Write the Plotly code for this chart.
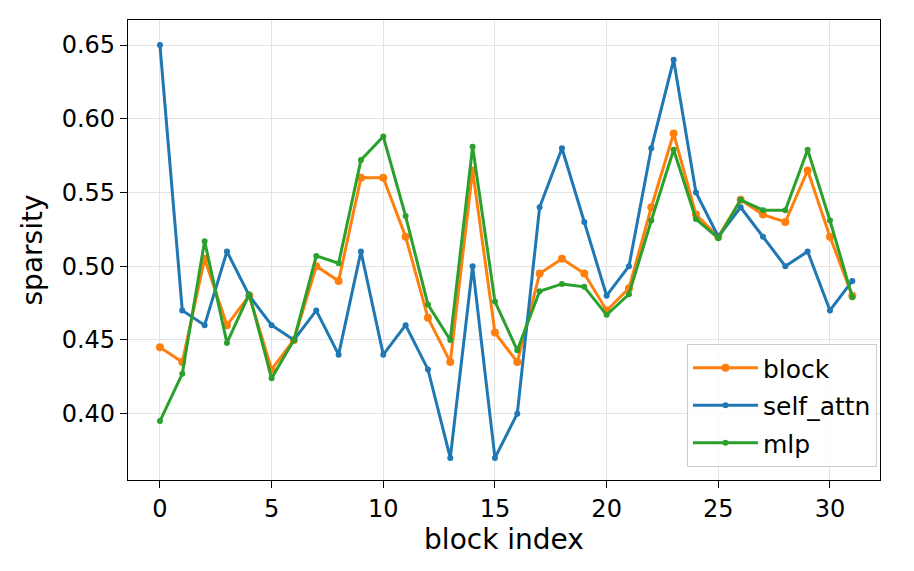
import plotly.graph_objects as go

block_index = list(range(32))
block = [0.445, 0.435, 0.505, 0.46, 0.48, 0.43, 0.45, 0.50, 0.49, 0.56, 0.56, 0.52, 0.465, 0.435, 0.565, 0.455,
         0.435, 0.495, 0.505, 0.495, 0.47, 0.485, 0.54, 0.59, 0.535, 0.52, 0.545, 0.535, 0.53, 0.565, 0.52, 0.48]
self_attn = [0.65, 0.47, 0.46, 0.51, 0.48, 0.46, 0.45, 0.47, 0.44, 0.51, 0.44, 0.46, 0.43, 0.37, 0.50, 0.37,
             0.40, 0.54, 0.58, 0.53, 0.48, 0.50, 0.58, 0.64, 0.55, 0.52, 0.54, 0.52, 0.50, 0.51, 0.47, 0.49]
mlp = [0.395, 0.427, 0.517, 0.448, 0.481, 0.424, 0.45, 0.507, 0.502, 0.572, 0.588, 0.534, 0.474, 0.45, 0.581, 0.476,
       0.443, 0.483, 0.488, 0.486, 0.467, 0.481, 0.531, 0.579, 0.532, 0.519, 0.545, 0.538, 0.538, 0.579, 0.531, 0.479]

fig = go.Figure()
fig.add_trace(go.Scatter(x=block_index, y=block, name="block", mode="lines+markers", legendgroup="a",
                         line=dict(color="#ff7f0e", width=3), marker=dict(size=8, color="#ff7f0e")))
fig.add_trace(go.Scatter(x=block_index, y=self_attn, name="self_attn", mode="lines+markers", legendgroup="b",
                         line=dict(color="#1f77b4", width=3), marker=dict(size=6, color="#1f77b4")))
fig.add_trace(go.Scatter(x=block_index, y=mlp, name="mlp", mode="lines+markers", legendgroup="c",
                         line=dict(color="#2ca02c", width=3), marker=dict(size=6, color="#2ca02c")))

axis_common = dict(showline=True, linecolor="black", linewidth=1.2, mirror=True,
                   ticks="outside", ticklen=7, tickcolor="black", tickwidth=1.2,
                   showgrid=True, gridcolor="#e3e3e3", gridwidth=1, zeroline=False,
                   tickfont=dict(size=24, color="black"))

fig.update_layout(
    width=898, height=555,
    margin=dict(l=120, r=26, t=12, b=83),
    paper_bgcolor="white", plot_bgcolor="white",
    font=dict(family="DejaVu Sans", color="black"),
    xaxis=dict(range=[-1.43, 32.24], tickvals=[0, 5, 10, 15, 20, 25, 30],
               title=dict(text="block index", font=dict(size=28), standoff=6), **axis_common),
    yaxis=dict(range=[0.355, 0.667], tickvals=[0.40, 0.45, 0.50, 0.55, 0.60, 0.65], tickformat=".2f",
               title=dict(text="sparsity", font=dict(size=28), standoff=10), **axis_common),
    legend=dict(x=0.996, y=0.028, xanchor="right", yanchor="bottom", bgcolor="rgba(255,255,255,0.8)",
                bordercolor="#cccccc", borderwidth=1, font=dict(size=25), itemwidth=65,
                tracegroupgap=2),
    showlegend=True,
)

fig.write_html("out.html")
